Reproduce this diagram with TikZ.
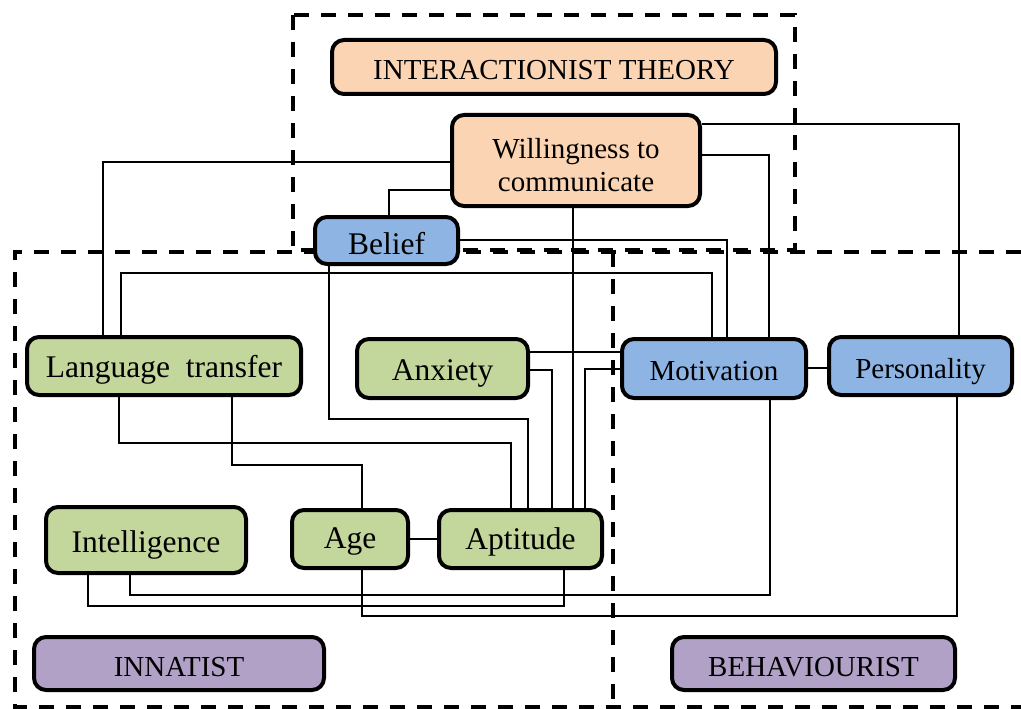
\documentclass[tikz,border=0pt]{standalone}
\usepackage{fontspec}
\setmainfont{Liberation Serif}
\usetikzlibrary{backgrounds}
\definecolor{peach}{HTML}{FBD4B4}
\definecolor{grn}{HTML}{C3D69B}
\definecolor{blu}{HTML}{8EB4E3}
\definecolor{purp}{HTML}{B2A1C7}
\begin{document}
\begin{tikzpicture}[x=1pt,y=-1pt,
  box/.style={draw=black, line width=4pt, rounded corners=12pt, inner sep=0pt, align=center, text height=24pt, text depth=0pt},
  bigtxt/.style={font=\fontsize{31.5}{36}\selectfont},
  smtxt/.style={font=\fontsize{29}{33}\selectfont},
  conn/.style={line width=1.3pt, black},
  dashbox/.style={line width=3.5pt, dash pattern=on 15pt off 12pt}]
\useasboundingbox (0,0) rectangle (1021,709);
% nodes
\node[box, smtxt, fill=peach, minimum width=444pt, minimum height=54pt, text height=26pt] (inter) at (554,67) {INTERACTIONIST THEORY};
\node[box, smtxt, fill=peach, minimum width=248pt, minimum height=91pt, text height=61pt, text depth=0pt] (will) at (576,160.5) {Willingness to\\communicate};
\node[box, bigtxt, fill=blu, minimum width=143pt, minimum height=47pt, text height=27pt] (belief) at (386.5,240.5) {Belief};
\node[box, bigtxt, fill=grn, minimum width=274pt, minimum height=58pt, text height=22pt] (lt) at (164,366) {Language\ \ transfer};
\node[box, bigtxt, fill=grn, minimum width=171pt, minimum height=59pt, text height=23pt] (anx) at (442.5,368.5) {Anxiety};
\node[box, smtxt, fill=blu, minimum width=184pt, minimum height=59pt, text height=23pt] (mot) at (714,368.5) {Motivation};
\node[box, smtxt, fill=blu, minimum width=183pt, minimum height=58pt] (pers) at (920.5,366) {Personality};
\node[box, bigtxt, fill=grn, minimum width=200pt, minimum height=66pt] (intel) at (146,540) {Intelligence};
\node[box, bigtxt, fill=grn, minimum width=116pt, minimum height=58pt, text height=18pt] (age) at (350,539) {Age};
\node[box, bigtxt, fill=grn, minimum width=163pt, minimum height=58pt, text height=20pt] (apt) at (520.5,539) {Aptitude};
\node[box, smtxt, fill=purp, minimum width=290pt, minimum height=53pt, text height=25pt] (innat) at (179,663.5) {INNATIST};
\node[box, smtxt, fill=purp, minimum width=283pt, minimum height=53pt, text height=25pt] (behav) at (813.5,663.5) {BEHAVIOURIST};
\begin{pgfonlayer}{background}
% dashed regions
\draw[dashbox] (293,15) rectangle (795,250);
\draw[dashbox] (1021,252) -- (15,252) -- (15,707) -- (1021,707);
\draw[dashbox] (613,252) -- (613,709);
% connectors
\draw[conn] (will.west |- 0,162) -| (lt.north -| 103,0);
\draw[conn] (will.west |- 0,190) -| (belief.north -| 389,0);
\draw[conn] (will.south -| 573,0) -- (apt.north -| 573,0);
\draw[conn] (will.east |- 0,124) -| (pers.north -| 959,0);
\draw[conn] (will.east |- 0,155) -| (mot.north -| 769,0);
\draw[conn] (belief.east |- 0,240) -| (mot.north -| 727,0);
\draw[conn] (belief.south -| 329,0) -- (329,419) -| (apt.north -| 528,0);
\draw[conn] (lt.north -| 121,0) -- (121,273) -| (mot.north -| 712,0);
\draw[conn] (lt.south -| 119,0) -- (119,443) -| (apt.north -| 511,0);
\draw[conn] (lt.south -| 232,0) -- (232,465) -| (age.north -| 362,0);
\draw[conn] (anx.east |- 0,352) -- (mot.west |- 0,352);
\draw[conn] (anx.east |- 0,370) -| (apt.north -| 552,0);
\draw[conn] (mot.west |- 0,369) -| (apt.north -| 585,0);
\draw[conn] (age) -- (apt);
\draw[conn] (mot.east |- 0,368) -- (pers.west |- 0,368);
\draw[conn] (mot.south -| 770,0) -- (770,595) -| (intel.south -| 130,0);
\draw[conn] (apt.south -| 564,0) -- (564,606) -| (intel.south -| 88,0);
\draw[conn] (pers.south -| 957,0) -- (957,616) -| (age.south -| 362,0);
\end{pgfonlayer}
\end{tikzpicture}
\end{document}
